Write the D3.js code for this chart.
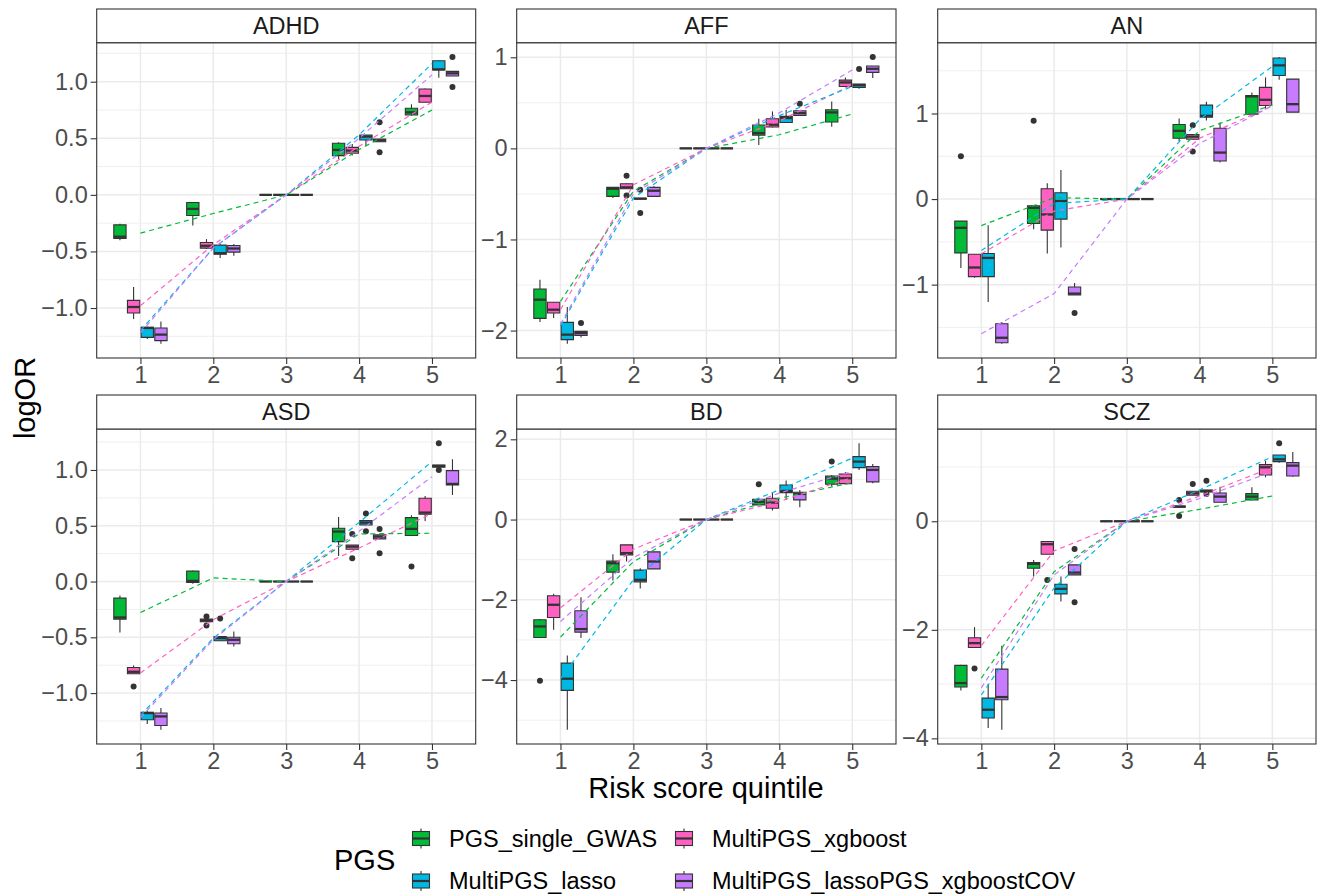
<!DOCTYPE html>
<html>
<head>
<meta charset="utf-8">
<script src="https://cdn.jsdelivr.net/npm/d3@7"></script>
<style>
  body { margin: 0; background: #fff; }
  svg { font-family: "Liberation Sans", Arial, Helvetica, sans-serif; }
</style>
</head>
<body>
<div id="chart"></div>
<script>
const width = 1320, height = 895;

// quintiles on the x axis, and the four PGS methods (dodge order)
const quintiles = [1, 2, 3, 4, 5];
const groups = ["PGS_single_GWAS", "MultiPGS_xgboost", "MultiPGS_lasso", "MultiPGS_lassoPGS_xgboostCOV"];
const groupColors = ["#00BA38", "#FF61C3", "#00B9E3", "#C77CFF"];

// box stats: [quintile, group, lower whisker, q1, median, q3, upper whisker]
const adhdStats = [
  [1,0,-0.40,-0.385,-0.37,-0.265,-0.255],[1,1,-1.097,-1.044,-0.991,-0.932,-0.815],
  [1,2,-1.274,-1.259,-1.176,-1.171,-1.165],[1,3,-1.315,-1.288,-1.235,-1.176,-1.118],
  [2,0,-0.271,-0.182,-0.124,-0.068,-0.068],[2,1,-0.479,-0.471,-0.45,-0.421,-0.391],
  [2,2,-0.559,-0.524,-0.515,-0.444,-0.435],[2,3,-0.538,-0.506,-0.474,-0.447,-0.435],
  [3,0,0,0,0,0,0],[3,1,0,0,0,0,0],[3,2,0,0,0,0,0],[3,3,0,0,0,0,0],
  [4,0,0.318,0.347,0.397,0.456,0.465],[4,1,0.347,0.368,0.391,0.42,0.45],
  [4,2,0.435,0.485,0.515,0.529,0.53],[4,3,0.47,0.47,0.482,0.494,0.494],
  [5,0,0.70,0.706,0.729,0.765,0.80],[5,1,0.818,0.818,0.874,0.935,0.941],
  [5,2,1.035,1.103,1.109,1.185,1.185],[5,3,1.05,1.05,1.074,1.091,1.091]
];
const adhdOutliers = [[4,3,0.641],[4,3,0.376],[5,3,1.218],[5,3,0.953]];
const adhdTrend = [
  [-0.338,-0.165,0,0.40,0.75],[-0.98,-0.44,0,0.43,0.82],
  [-1.20,-0.47,0,0.53,1.16],[-1.22,-0.47,0,0.50,1.06]
];
const adhdTicks = [-1, -0.5, 0, 0.5, 1];

const affStats = [
  [1,0,-1.906,-1.866,-1.661,-1.544,-1.442],[1,1,-1.862,-1.808,-1.771,-1.69,-1.69],
  [1,2,-2.144,-2.1,-2.045,-1.91,-1.742],[1,3,-2.075,-2.053,-2.027,-2.009,-2.009],
  [2,0,-0.545,-0.527,-0.443,-0.428,-0.428],[2,1,-0.443,-0.443,-0.428,-0.388,-0.388],
  [2,2,-0.56,-0.556,-0.552,-0.548,-0.545],[2,3,-0.527,-0.527,-0.465,-0.428,-0.417],
  [3,0,0,0,0,0,0],[3,1,0,0,0,0,0],[3,2,0,0,0,0,0],[3,3,0,0,0,0,0],
  [4,0,0.037,0.146,0.168,0.256,0.326],[4,1,0.23,0.234,0.26,0.326,0.406],
  [4,2,0.28,0.285,0.333,0.351,0.424],[4,3,0.355,0.362,0.388,0.413,0.413],
  [5,0,0.238,0.289,0.395,0.424,0.516],[5,1,0.67,0.68,0.724,0.75,0.779],
  [5,2,0.655,0.67,0.695,0.706,0.706],[5,3,0.772,0.834,0.874,0.904,0.904]
];
const affOutliers = [[1,3,-1.917],[2,1,-0.3],[2,1,-0.516],[2,2,-0.454],[2,2,-0.71],[4,3,0.49],[5,2,0.871],[5,3,1.003]];
const affTrend = [
  [-1.68,-0.47,0,0.15,0.377],[-1.77,-0.40,0,0.30,0.70],
  [-1.95,-0.545,0,0.36,0.68],[-1.93,-0.50,0,0.39,0.86]
];
const affTicks = [-2, -1, 0, 1];

const anStats = [
  [1,0,-0.805,-0.629,-0.336,-0.258,-0.258],[1,1,-0.92,-0.906,-0.8,-0.645,-0.645],
  [1,2,-1.203,-0.906,-0.688,-0.637,-0.305],[1,3,-1.69,-1.68,-1.621,-1.457,-1.437],
  [2,0,-0.352,-0.285,-0.102,-0.078,-0.078],[2,1,-0.637,-0.363,-0.18,0.121,0.184],
  [2,2,-0.566,-0.234,-0.023,0.074,0.34],[2,3,-1.121,-1.121,-1.105,-1.027,-0.98],
  [3,0,0,0,0,0,0],[3,1,0,0,0,0,0],[3,2,0,0,0,0,0],[3,3,0,0,0,0,0],
  [4,0,0.672,0.711,0.797,0.871,0.941],[4,1,0.699,0.699,0.73,0.754,0.754],
  [4,2,0.918,0.957,0.973,1.098,1.137],[4,3,0.426,0.445,0.543,0.828,0.895],
  [5,0,0.969,0.992,1.2,1.211,1.246],[5,1,1.051,1.094,1.16,1.305,1.422],
  [5,2,1.395,1.445,1.5625,1.648,1.66],[5,3,1.016,1.016,1.109,1.402,1.402]
];
const anOutliers = [[1,0,0.5],[2,0,0.914],[2,3,-1.332],[4,1,0.863],[4,1,0.555]];
const anTrend = [
  [-0.31,0.016,0,0.80,1.10],[-0.64,-0.14,0,0.71,1.09],
  [-0.60,-0.05,0,0.93,1.55],[-1.574,-1.105,0,0.65,1.09]
];
const anTicks = [-1, 0, 1];

const asdStats = [
  [1,0,-0.457,-0.337,-0.322,-0.149,-0.125],[1,1,-0.827,-0.827,-0.809,-0.77,-0.752],
  [1,2,-1.278,-1.239,-1.179,-1.173,-1.155],[1,3,-1.328,-1.29,-1.209,-1.179,-1.134],
  [2,0,-0.02,-0.009,0.006,0.093,0.1],[2,1,-0.361,-0.361,-0.349,-0.337,-0.337],
  [2,2,-0.531,-0.531,-0.507,-0.493,-0.493],[2,3,-0.582,-0.558,-0.522,-0.499,-0.448],
  [3,0,0,0,0,0,0],[3,1,0,0,0,0,0],[3,2,0,0,0,0,0],[3,3,0,0,0,0,0],
  [4,0,0.23,0.358,0.448,0.478,0.579],[4,1,0.29,0.29,0.313,0.328,0.328],
  [4,2,0.507,0.507,0.528,0.546,0.546],[4,3,0.382,0.382,0.403,0.418,0.418],
  [5,0,0.41,0.412,0.472,0.573,0.594],[5,1,0.543,0.603,0.618,0.746,0.767],
  [5,2,1.024,1.024,1.036,1.045,1.045],[5,3,0.776,0.866,0.875,0.994,1.096]
];
const asdOutliers = [[1,1,-0.94],[2,1,-0.313],[2,1,-0.394],[2,2,-0.331],[4,1,0.427],[4,1,0.209],
  [4,2,0.609],[4,2,0.451],[4,3,0.472],[4,3,0.254],[5,0,0.134],[5,2,1.239],[5,2,1.0]];
const asdTrend = [
  [-0.278,0.033,0,0.427,0.433],[-0.82,-0.343,0,0.30,0.61],
  [-1.20,-0.507,0,0.53,1.075],[-1.22,-0.52,0,0.45,0.94]
];
const asdTicks = [-1, -0.5, 0, 0.5, 1];

const bdStats = [
  [1,0,-2.95,-2.938,-2.664,-2.498,-2.48],[1,1,-2.747,-2.44,-2.124,-1.9,-1.85],
  [1,2,-5.237,-4.257,-3.967,-3.577,-3.386],[1,3,-2.954,-2.805,-2.73,-2.274,-1.934],
  [2,0,-1.519,-1.311,-1.087,-1.037,-0.863],[2,1,-1.046,-0.88,-0.838,-0.631,-0.63],
  [2,2,-1.718,-1.552,-1.502,-1.261,-1.212],[2,3,-1.228,-1.228,-1.046,-0.805,-0.805],
  [3,0,0,0,0,0,0],[3,1,0,0,0,0,0],[3,2,0,0,0,0,0],[3,3,0,0,0,0,0],
  [4,0,0.365,0.365,0.44,0.506,0.506],[4,1,0.224,0.282,0.423,0.531,0.672],
  [4,2,0.49,0.672,0.714,0.863,0.971],[4,3,0.307,0.49,0.639,0.68,0.739],
  [5,0,0.822,0.88,1.02,1.087,1.112],[5,1,0.88,0.896,1.029,1.137,1.187],
  [5,2,1.237,1.295,1.444,1.568,1.9],[5,3,0.905,0.938,1.237,1.32,1.386]
];
const bdOutliers = [[1,0,-4.017],[4,0,0.88],[5,0,1.444]];
const bdTrend = [
  [-2.93,-1.05,0,0.53,0.92],[-2.2,-0.74,0,0.45,1.05],
  [-3.97,-1.5,0,0.74,1.53],[-2.54,-0.95,0,0.66,1.2]
];
const bdTicks = [-4, -2, 0, 2];

const sczStats = [
  [1,0,-3.117,-3.055,-2.982,-2.656,-2.644],[1,1,-2.325,-2.325,-2.245,-2.147,-1.951],
  [1,2,-3.81,-3.626,-3.472,-3.258,-3.0],[1,3,-3.84,-3.288,-3.239,-2.724,-2.294],
  [2,0,-1.018,-0.865,-0.785,-0.761,-0.712],[2,1,-0.607,-0.607,-0.423,-0.374,-0.374],
  [2,2,-1.479,-1.337,-1.245,-1.16,-1.018],[2,3,-0.988,-0.988,-0.945,-0.804,-0.804],
  [3,0,0,0,0,0,0],[3,1,0,0,0,0,0],[3,2,0,0,0,0,0],[3,3,0,0,0,0,0],
  [4,0,0.258,0.258,0.27,0.28,0.28],[4,1,0.479,0.479,0.515,0.552,0.552],
  [4,2,0.54,0.54,0.557,0.577,0.577],[4,3,0.35,0.35,0.454,0.521,0.638],
  [5,0,0.393,0.393,0.454,0.509,0.626],[5,1,0.81,0.853,0.994,1.043,1.117],
  [5,2,1.08,1.098,1.141,1.221,1.221],[5,3,0.822,0.834,1.025,1.08,1.276]
];
const sczOutliers = [[1,1,-2.712],[2,1,-1.08],[2,3,-0.509],[2,3,-1.491],[4,0,0.393],[4,0,0.098],
  [4,1,0.687],[4,2,0.748],[4,2,0.503],[5,2,1.436]];
const sczTrend = [
  [-2.89,-0.93,0,0.22,0.466],[-2.29,-0.546,0,0.466,0.994],
  [-3.2,-1.23,0,0.577,1.19],[-3.07,-0.99,0,0.42,0.914]
];
const sczTicks = [-4, -2, 0];

const panels = [
  {name: "ADHD", stats: adhdStats, outliers: adhdOutliers, trend: adhdTrend, ticks: adhdTicks, fmt: ".1f"},
  {name: "AFF",  stats: affStats,  outliers: affOutliers,  trend: affTrend,  ticks: affTicks,  fmt: "d"},
  {name: "AN",   stats: anStats,   outliers: anOutliers,   trend: anTrend,   ticks: anTicks,   fmt: "d"},
  {name: "ASD",  stats: asdStats,  outliers: asdOutliers,  trend: asdTrend,  ticks: asdTicks,  fmt: ".1f"},
  {name: "BD",   stats: bdStats,   outliers: bdOutliers,   trend: bdTrend,   ticks: bdTicks,   fmt: "d"},
  {name: "SCZ",  stats: sczStats,  outliers: sczOutliers,  trend: sczTrend,  ticks: sczTicks,  fmt: "d"}
];

// layout of the facet grid
const cols = [[96.7, 475.7], [516.7, 896], [937.7, 1316]];
const rows = [{strip: 9, top: 42.7, bottom: 358}, {strip: 395, top: 429, bottom: 744}];
const dodge = 0.75 / groups.length;
const boxW = dodge * 0.9;
const ink = "#333333";
const smallFont = 23.5, bigFont = 29;

const svg = d3.select("#chart")
  .append("svg")
  .attr("width", width)
  .attr("height", height)
  .attr("viewBox", [0, 0, width, height]);

panels.forEach((p, i) => {
  const [x0, x1] = cols[i % 3];
  const r = rows[Math.floor(i / 3)];

  const x = d3.scaleLinear().domain([0.4, 5.6]).range([x0, x1]);

  // y range like ggplot: data extent plus 5% each side
  const vals = [];
  p.stats.forEach(s => vals.push(s[2], s[6]));
  p.outliers.forEach(o => vals.push(o[2]));
  p.trend.forEach(t => vals.push(...t));
  const [lo, hi] = d3.extent(vals);
  const pad = (hi - lo) * 0.05;
  const y = d3.scaleLinear().domain([lo - pad, hi + pad]).range([r.bottom, r.top]);

  const g = svg.append("g");

  // panel background
  g.append("rect")
    .attr("x", x0).attr("y", r.top)
    .attr("width", x1 - x0).attr("height", r.bottom - r.top)
    .attr("fill", "#fff");

  // grid lines
  const step = p.ticks[1] - p.ticks[0];
  const minors = [p.ticks[0] - step / 2, ...p.ticks.map(t => t + step / 2)]
    .filter(v => v > y.domain()[0] && v < y.domain()[1]);
  g.selectAll(".minor").data(minors).enter().append("line")
    .attr("x1", x0).attr("x2", x1)
    .attr("y1", d => y(d)).attr("y2", d => y(d))
    .attr("stroke", "#EBEBEB").attr("stroke-width", 0.8);
  g.selectAll(".major").data(p.ticks).enter().append("line")
    .attr("x1", x0).attr("x2", x1)
    .attr("y1", d => y(d)).attr("y2", d => y(d))
    .attr("stroke", "#EBEBEB").attr("stroke-width", 1.5);
  g.selectAll(".vgrid").data(quintiles).enter().append("line")
    .attr("x1", d => x(d)).attr("x2", d => x(d))
    .attr("y1", r.top).attr("y2", r.bottom)
    .attr("stroke", "#EBEBEB").attr("stroke-width", 1.5);

  // boxes
  const boxes = g.selectAll(".box").data(p.stats).enter().append("g");
  const cx = d => x(d[0] + (d[1] - 1.5) * dodge);
  const half = (x(boxW) - x(0)) / 2;
  boxes.append("line")
    .attr("x1", cx).attr("x2", cx)
    .attr("y1", d => y(d[2])).attr("y2", d => y(d[6]))
    .attr("stroke", ink).attr("stroke-width", 1.1);
  boxes.append("path")
    .attr("d", d => `M${cx(d) - half},${y(d[5])}H${cx(d) + half}V${y(d[3])}H${cx(d) - half}Z`)
    .attr("fill", d => groupColors[d[1]])
    .attr("stroke", ink).attr("stroke-width", 1.1);
  boxes.append("line")
    .attr("x1", d => cx(d) - half).attr("x2", d => cx(d) + half)
    .attr("y1", d => y(d[4])).attr("y2", d => y(d[4]))
    .attr("stroke", ink).attr("stroke-width", 2.3);

  // outliers
  g.selectAll(".out").data(p.outliers).enter().append("circle")
    .attr("cx", cx)
    .attr("cy", d => y(d[2]))
    .attr("r", 3)
    .attr("fill", ink);

  // dashed trend lines
  const line = d3.line().x((d, k) => x(quintiles[k])).y(d => y(d));
  g.selectAll(".trend").data(p.trend).enter().append("path")
    .attr("d", line)
    .attr("fill", "none")
    .attr("stroke", (d, k) => groupColors[k])
    .attr("stroke-width", 1.2)
    .attr("stroke-dasharray", "5,4");

  // panel border
  g.append("rect")
    .attr("x", x0).attr("y", r.top)
    .attr("width", x1 - x0).attr("height", r.bottom - r.top)
    .attr("fill", "none").attr("stroke", ink).attr("stroke-width", 1.1);

  // strip
  g.append("rect")
    .attr("x", x0).attr("y", r.strip)
    .attr("width", x1 - x0).attr("height", r.top - r.strip)
    .attr("fill", "#fff").attr("stroke", ink).attr("stroke-width", 1.1);
  g.append("text")
    .attr("x", (x0 + x1) / 2).attr("y", (r.strip + r.top) / 2)
    .attr("dy", "0.36em")
    .attr("text-anchor", "middle")
    .attr("font-size", smallFont)
    .attr("fill", "#1A1A1A")
    .text(p.name);

  // axes
  const yAxis = g.append("g")
    .attr("transform", `translate(${x0},0)`)
    .call(d3.axisLeft(y).tickValues(p.ticks).tickFormat(d3.format(p.fmt)).tickSize(6).tickPadding(3));
  const xAxis = g.append("g")
    .attr("transform", `translate(0,${r.bottom})`)
    .call(d3.axisBottom(x).tickValues(quintiles).tickFormat(d3.format("d")).tickSize(6).tickPadding(2));
  [yAxis, xAxis].forEach(a => {
    a.select(".domain").remove();
    a.selectAll(".tick line").attr("stroke", ink).attr("stroke-width", 1.1);
    a.selectAll(".tick text")
      .attr("fill", "#4D4D4D")
      .attr("font-size", smallFont)
      .attr("font-family", null);
  });
});

// axis titles
svg.append("text")
  .attr("x", 706).attr("y", 798)
  .attr("text-anchor", "middle")
  .attr("font-size", bigFont)
  .text("Risk score quintile");
svg.append("text")
  .attr("transform", "translate(35,398) rotate(-90)")
  .attr("text-anchor", "middle")
  .attr("font-size", bigFont)
  .text("logOR");

// legend (filled by row, two columns)
const legend = svg.append("g");
legend.append("text")
  .attr("x", 334).attr("y", 870)
  .attr("font-size", bigFont)
  .text("PGS");
const keyX = [421, 684], textX = [449, 712], rowY = [838.5, 881];
groups.forEach((name, k) => {
  const kx = keyX[k % 2], ky = rowY[Math.floor(k / 2)];
  const key = legend.append("g");
  key.append("line")
    .attr("x1", kx).attr("x2", kx)
    .attr("y1", ky - 10).attr("y2", ky + 10)
    .attr("stroke", ink).attr("stroke-width", 1.1);
  key.append("rect")
    .attr("x", kx - 8.5).attr("y", ky - 7)
    .attr("width", 17).attr("height", 14)
    .attr("fill", groupColors[k])
    .attr("stroke", ink).attr("stroke-width", 1.1);
  key.append("line")
    .attr("x1", kx - 8.5).attr("x2", kx + 8.5)
    .attr("y1", ky).attr("y2", ky)
    .attr("stroke", ink).attr("stroke-width", 2.2);
  legend.append("text")
    .attr("x", textX[k % 2]).attr("y", ky)
    .attr("dy", "0.36em")
    .attr("font-size", smallFont)
    .attr("fill", "#000")
    .text(name);
});
</script>
</body>
</html>
